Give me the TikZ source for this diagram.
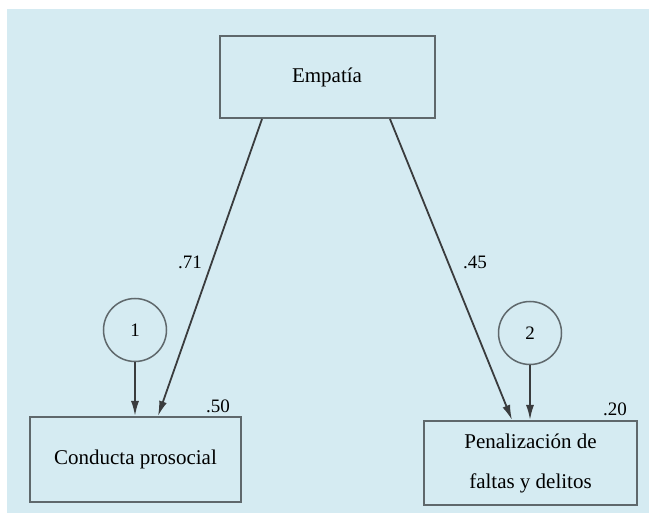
\documentclass[tikz,border=0pt]{standalone}
\usepackage{fontspec}
\setmainfont{Liberation Serif}
\usetikzlibrary{arrows.meta}

\definecolor{fondo}{RGB}{213,235,242}
\definecolor{borde}{RGB}{95,104,108}
\definecolor{flecha}{RGB}{58,60,62}

\tikzset{
	caja/.style={draw=borde, line width=2pt, inner sep=0pt, align=center,
		font=\fontsize{21pt}{40pt}\selectfont},
	error/.style={circle, draw=borde, line width=1.5pt, minimum size=63pt, inner sep=0pt,
		font=\fontsize{19pt}{22pt}\selectfont},
	coef/.style={inner sep=0pt, font=\fontsize{19pt}{22pt}\selectfont},
	efecto/.style={draw=flecha, line width=1.8pt, -{Latex[length=15pt,width=8pt]}}
}

\begin{document}
\begin{tikzpicture}[x=1pt,y=-1pt]
	
	\useasboundingbox (0,0) rectangle (649,513);
	\fill[fondo] (7,9) rectangle (649,513);
	
	\node[caja, minimum width=215pt, minimum height=82pt] (emp) at (327,77) {Empatía};
	\node[caja, minimum width=211pt, minimum height=85pt] (cond) at (135.5,459.5) {Conducta prosocial};
	\node[caja, minimum width=213pt, minimum height=84pt] (pen) at (530.5,463) {Penalización de\\faltas y delitos};
	
	\node[error] (e1) at (135,330) {1};
	\node[error] (e2) at (530,333) {2};
	
	\draw[efecto] ([xshift=-65pt]emp.south) -- ([xshift=22.5pt]cond.north);
	\draw[efecto] ([xshift=63pt]emp.south) -- ([xshift=-18.5pt]pen.north);
	\draw[efecto] (e1) -- (e1 |- cond.north);
	\draw[efecto] (e2) -- (e2 |- pen.north);
	
	\node[coef] (c71) at (190,262) {.71};
	\node[coef] (c45) at (475,262) {.45};
	\node[coef] (r50) at (218,406) {.50};
	\node[coef] (r20) at (615,409) {.20};
\end{tikzpicture}
\end{document}
